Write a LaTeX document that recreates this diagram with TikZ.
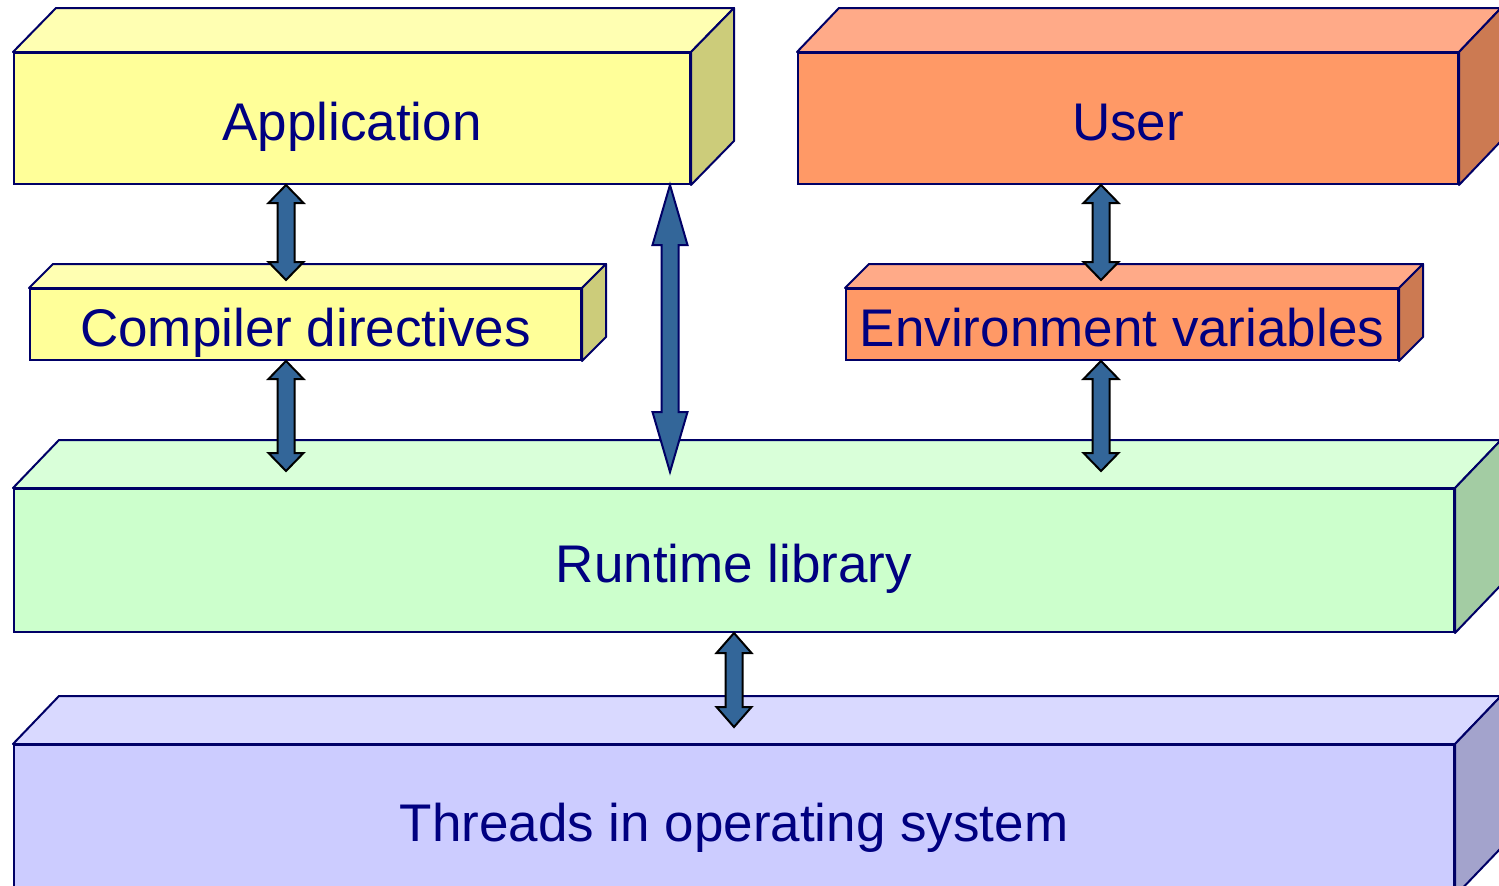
\documentclass[tikz,border=0pt]{standalone}
\usepackage{fontspec}
\setmainfont{Liberation Sans}
\usetikzlibrary{calc}

\definecolor{edgeblue}{RGB}{0,0,102}
\definecolor{textblue}{RGB}{0,0,128}
\definecolor{arrowblue}{RGB}{51,102,153}
\definecolor{appfront}{RGB}{255,255,153}
\definecolor{apptop}{RGB}{255,255,178}
\definecolor{appside}{RGB}{204,204,122}
\definecolor{userfront}{RGB}{255,153,102}
\definecolor{usertop}{RGB}{255,170,136}
\definecolor{userside}{RGB}{204,122,82}
\definecolor{rtfront}{RGB}{204,255,204}
\definecolor{rttop}{RGB}{217,255,217}
\definecolor{rtside}{RGB}{163,204,163}
\definecolor{osfront}{RGB}{204,204,255}
\definecolor{ostop}{RGB}{217,217,255}
\definecolor{osside}{RGB}{163,163,204}

% top and right faces of a box: name, dx, dy, top colour, side colour
\newcommand{\cuboid}[5]{%
  \filldraw[face,fill=#4] (#1.north west) -- ++(#2,-#3)
    -- ($(#1.north east)+(#2,-#3)$) -- (#1.north east) -- cycle;
  \filldraw[face,fill=#5] (#1.north east) -- ++(#2,-#3)
    -- ($(#1.south east)+(#2,-#3)$) -- (#1.south east) -- cycle;
}
% fat double arrow: top end, bottom end, head length, outline colour
\newcommand{\fatarrow}[4]{%
  \filldraw[fatline,draw=#4] let \p1=#1, \p2=#2 in
    (\x1,\y1) -- (\x1+17.5pt,\y1-#3) -- (\x1+8.5pt,\y1-#3)
      -- (\x1+8.5pt,\y2+#3) -- (\x1+17.5pt,\y2+#3) -- (\x1,\y2)
      -- (\x1-17.5pt,\y2+#3) -- (\x1-8.5pt,\y2+#3) -- (\x1-8.5pt,\y1-#3)
      -- (\x1-17.5pt,\y1-#3) -- cycle;
}

\begin{document}
\begin{tikzpicture}[x=1pt,y=-1pt,
  box/.style={draw=edgeblue,line width=2pt,inner sep=0pt,text=textblue,
    text height=43pt,text depth=0pt,font=\fontsize{53}{60}\selectfont},
  face/.style={draw=edgeblue,line width=2pt,line join=round},
  fatline/.style={fill=arrowblue,line width=2pt,line join=miter}]
  \useasboundingbox (0,0) rectangle (1499,886);
  \clip (0,0) rectangle (1499,886);

  \node[box,fill=appfront,minimum width=676pt,minimum height=131pt] (app) at (352,118.5) {Application};
  \cuboid{app}{43}{44}{apptop}{appside}
  \node[box,fill=userfront,minimum width=660pt,minimum height=131pt] (user) at (1128,118.5) {User};
  \cuboid{user}{42}{44}{usertop}{userside}
  \node[box,fill=appfront,minimum width=551pt,minimum height=71pt] (comp) at (305.5,324.5) {Compiler directives};
  \cuboid{comp}{24}{24}{apptop}{appside}
  \node[box,fill=userfront,minimum width=552pt,minimum height=71pt] (env) at (1122,324.5) {Environment variables};
  \cuboid{env}{24}{24}{usertop}{userside}
  \node[box,fill=rtfront,minimum width=1440pt,minimum height=143pt] (rt) at (734,560.5) {Runtime library};
  \cuboid{rt}{46}{48}{rttop}{rtside}
  \node[box,fill=osfront,minimum width=1440pt,minimum height=150pt] (os) at (734,820) {Threads in operating system};
  \cuboid{os}{46}{48}{ostop}{osside}

  \coordinate (lx) at (286,0);
  \coordinate (mx) at (670,0);
  \coordinate (rx) at (1101,0);
  \coordinate (bx) at (734,0);

  \fatarrow{(app.south -| lx)}{([yshift=8pt]comp.north -| lx)}{18pt}{black}
  \fatarrow{(comp.south -| lx)}{([yshift=17pt]rt.north -| lx)}{18pt}{black}
  \fatarrow{(app.south -| mx)}{([yshift=16pt]rt.north -| mx)}{60pt}{edgeblue}
  \fatarrow{(user.south -| rx)}{([yshift=8pt]env.north -| rx)}{18pt}{black}
  \fatarrow{(env.south -| rx)}{([yshift=17pt]rt.north -| rx)}{18pt}{black}
  \fatarrow{(rt.south -| bx)}{([yshift=17pt]os.north -| bx)}{20pt}{black}
\end{tikzpicture}
\end{document}
